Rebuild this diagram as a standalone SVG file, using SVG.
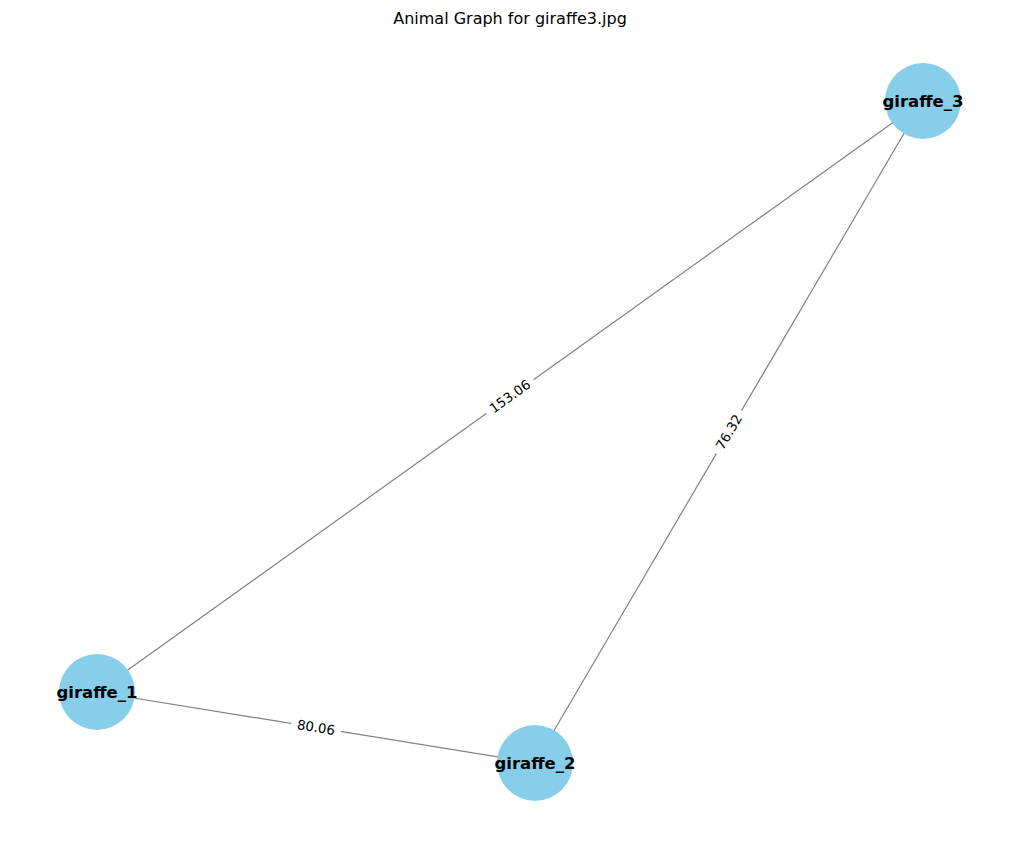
<svg xmlns="http://www.w3.org/2000/svg" width="1019" height="842" viewBox="0 0 1019 842">
<style>
.edge{stroke:#808080;stroke-width:1.2;fill:none}
.node{fill:#87CEEB}
.nl{font-family:"DejaVu Sans",sans-serif;font-size:16.5px;font-weight:bold;fill:#000;text-anchor:middle;dominant-baseline:central}
.el{font-family:"DejaVu Sans",sans-serif;font-size:13.3px;fill:#000;text-anchor:middle;dominant-baseline:central}
.lb{fill:#fff}
</style>
<rect width="1019" height="842" fill="#fff"/>
<text x="510" y="24" font-family="DejaVu Sans, sans-serif" font-size="16" text-anchor="middle">Animal Graph for giraffe3.jpg</text>
<g id="connectors">
<line class="edge" x1="97" y1="692" x2="923" y2="101"/>
<line class="edge" x1="535" y1="763" x2="923" y2="101"/>
<line class="edge" x1="97" y1="692" x2="535" y2="763"/>
<g transform="translate(510,396.5) rotate(-35.6)"><rect class="lb" x="-29" y="-10" width="58" height="20"/><text class="el" x="0" y="0">153.06</text></g>
<g transform="translate(729,432) rotate(-59.6)"><rect class="lb" x="-25" y="-10" width="50" height="20"/><text class="el" x="0" y="0">76.32</text></g>
<g transform="translate(316,727.5) rotate(9.2)"><rect class="lb" x="-25" y="-10" width="50" height="20"/><text class="el" x="0" y="0">80.06</text></g>
</g>
<g id="giraffe_1"><circle class="node" cx="97" cy="692" r="38"/><text class="nl" x="97" y="692">giraffe_1</text></g>
<g id="giraffe_2"><circle class="node" cx="535" cy="763" r="38"/><text class="nl" x="535" y="763">giraffe_2</text></g>
<g id="giraffe_3"><circle class="node" cx="923" cy="101" r="38"/><text class="nl" x="923" y="101">giraffe_3</text></g>
</svg>
